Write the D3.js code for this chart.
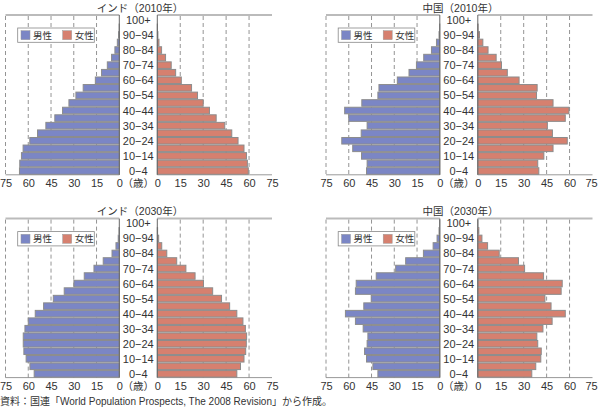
<!DOCTYPE html>
<html><head><meta charset="utf-8">
<script src="https://cdn.jsdelivr.net/npm/d3@7"></script>
<style>
body{margin:0;background:#fff;}
text{font-family:"Liberation Sans","Noto Sans CJK JP",sans-serif;fill:#333;}
</style></head>
<body><svg id="c" width="598" height="409"></svg>
<script>
const ages = ["0−4","5−9","10−14","15−19","20−24","25−29","30−34","35−39","40−44","45−49","50−54","55−59","60−64","65−69","70−74","75−79","80−84","85−89","90−94","95−99","100+"];
const ageLabels = ["0−4","10−14","20−24","30−34","40−44","50−54","60−64","70−74","80−84","90−94","100+"];
const xTicks = [0,15,30,45,60,75];
const legendLabels = ["男性","女性"];

const indiaMale2010   = [65.8,65.6,64.5,63.4,59,53.9,48.4,42.5,37.4,33.2,28.6,23.8,15.8,11.7,7.9,5.1,2.9,1.3,0.5,0.1,0];
const indiaFemale2010 = [59.5,58.9,58.3,56.7,52.8,48.7,44.1,38.5,34.1,30,26.3,22.4,15.7,12,9.1,5.4,2.8,1.1,0.4,0.1,0];
const chinaMale2010   = [48.3,47.9,51.6,57.4,64.6,51.8,47.9,60,62.7,51.4,40.8,40.1,28,20.3,15.4,10.6,5.5,2.2,0.5,0.1,0];
const chinaFemale2010 = [39.9,39.2,43.2,49.2,58.5,48.8,45.5,57.2,59.6,49.2,38.4,38.8,27,19.3,15.5,12,6.7,3.3,1.1,0.2,0];
const indiaMale2030   = [56.1,58.9,61.4,62.9,63.3,63.3,62.2,60,55.4,49.9,43.5,36.3,29.9,23.1,16.7,10.6,4.8,2.2,0.7,0.2,0];
const indiaFemale2030 = [52,54.4,56.7,57.8,58.2,58.4,57.6,56,52,47.3,42,36.2,30.2,24.7,18.7,12.7,6.2,2.9,0.9,0.2,0];
const chinaMale2030   = [40.8,44.1,48.3,49.6,47.9,47.4,50.5,55.6,62.2,50.1,45.2,55.6,55.1,41.9,29.1,22.5,10.8,4.4,1.8,0.5,0.1];
const chinaFemale2030 = [35.3,37.9,41.2,41.5,39.2,38.6,42.6,48.6,57.2,47.9,43.9,54.5,55.2,43,30.6,26.6,14,6.4,2.7,0.7,0.1];

const titles = ["インド（2010年）","中国（2010年）","インド（2030年）","中国（2030年）"];
const source = "資料：国連「World Population Prospects, The 2008 Revision」から作成。";

const maleColor = "#7b86c5", femaleColor = "#d6806f";
const svg = d3.select("#c");

const panels = [
  {title:titles[0], male:indiaMale2010, female:indiaFemale2010, ox:0, top:16, bottom:174.8},
  {title:titles[1], male:chinaMale2010, female:chinaFemale2010, ox:320.5, top:16, bottom:174.8},
  {title:titles[2], male:indiaMale2030, female:indiaFemale2030, ox:0, top:219.6, bottom:377.6},
  {title:titles[3], male:chinaMale2030, female:chinaFemale2030, ox:320.5, top:219.6, bottom:377.6}
];

panels.forEach(p => {
  const g = svg.append("g");
  const y = d3.scaleBand().domain(ages.slice().reverse()).range([p.top, p.bottom]).paddingInner(0);
  const xm = d3.scaleLinear().domain([0,75]).range([p.ox+119.3, p.ox+5.5]);
  const xf = d3.scaleLinear().domain([0,75]).range([p.ox+157.3, p.ox+272]);
  const bw = y.bandwidth();

  // title
  g.append("text").attr("x", p.ox+140).attr("y", p.top-4.5).attr("text-anchor","middle")
    .attr("font-size",10.5).text(p.title);

  // frame lines top & bottom
  [[xm,75,0],[xf,0,75]].forEach(([sc,a,b]) => {
    g.append("line").attr("x1",sc(a)).attr("x2",sc(b)).attr("y1",p.top-1).attr("y2",p.top-1)
      .attr("stroke","#bbb").attr("stroke-width",2);
    g.append("line").attr("x1",sc(a)).attr("x2",sc(b)).attr("y1",p.bottom).attr("y2",p.bottom)
      .attr("stroke","#999").attr("stroke-width",1);
  });

  // gridlines
  [15,30,45,60,75].forEach(v => {
    g.append("line").attr("x1",xm(v)).attr("x2",xm(v)).attr("y1",p.top).attr("y2",p.bottom)
      .attr("stroke","#888").attr("stroke-dasharray","4,3").attr("stroke-width",0.9);
  });
  [15,30,45,60].forEach(v => {
    g.append("line").attr("x1",xf(v)).attr("x2",xf(v)).attr("y1",p.top).attr("y2",p.bottom)
      .attr("stroke","#888").attr("stroke-dasharray","4,3").attr("stroke-width",0.9);
  });

  // bars
  g.selectAll(".m").data(p.male).join("rect")
    .attr("x",(d)=>xm(d)).attr("y",(d,i)=>y(ages[i])+0.5)
    .attr("width",d=>xm(0)-xm(d)).attr("height",bw-1)
    .attr("fill",maleColor).attr("stroke",d=>d>0?"#8c8c8c":"none").attr("stroke-width",1);
  g.selectAll(".f").data(p.female).join("rect")
    .attr("x",xf(0)).attr("y",(d,i)=>y(ages[i])+0.5)
    .attr("width",d=>xf(d)-xf(0)).attr("height",bw-1)
    .attr("fill",femaleColor).attr("stroke",d=>d>0?"#8c8c8c":"none").attr("stroke-width",1);

  // center axis lines
  g.append("line").attr("x1",xm(0)).attr("x2",xm(0)).attr("y1",p.top-1).attr("y2",p.bottom)
    .attr("stroke","#666").attr("stroke-width",1);
  g.append("line").attr("x1",xf(0)).attr("x2",xf(0)).attr("y1",p.top-1).attr("y2",p.bottom)
    .attr("stroke","#666").attr("stroke-width",1);

  // age labels
  ageLabels.forEach(a => {
    g.append("text").attr("x",p.ox+138.3).attr("y",y(a)+bw/2+4).attr("text-anchor","middle")
      .attr("font-size",11).text(a);
  });

  // x axes
  const axM = d3.axisBottom(xm).tickValues(xTicks).tickSize(0).tickPadding(0);
  const axF = d3.axisBottom(xf).tickValues(xTicks).tickSize(0).tickPadding(0);
  [axM, axF].forEach((ax, k) => {
    const a = g.append("g").attr("transform",`translate(0,${p.bottom+12.5})`).call(ax);
    a.select(".domain").remove();
    a.selectAll("text").attr("font-size",11).attr("fill","#333").attr("y",0).attr("dy",0)
      .attr("dx", d => (k===1 && d===75 && p.ox>0) ? -1.5 : 0)
      .style("font-family",'"Liberation Sans","Noto Sans CJK JP",sans-serif');
  });
  g.append("text").attr("x",p.ox+138.3).attr("y",p.bottom+12.5).attr("text-anchor","middle")
    .attr("font-size",10.5).text("（歳）");

  // legend
  const lg = g.append("g").attr("transform",`translate(${p.ox+17.7},${p.top+12})`);
  lg.append("rect").attr("width",76.6).attr("height",14.3).attr("fill","#fff").attr("stroke","#888").attr("stroke-width",0.8);
  [[maleColor,3.3,legendLabels[0]],[femaleColor,45,legendLabels[1]]].forEach(([c,x,t]) => {
    lg.append("rect").attr("x",x).attr("y",2.7).attr("width",9).attr("height",9).attr("fill",c).attr("stroke","#999").attr("stroke-width",0.5);
    lg.append("text").attr("x",x+12).attr("y",10.8).attr("font-size",9.5).text(t);
  });
});

svg.append("text").attr("x",0).attr("y",405).attr("font-size",10).text(source);
</script></body></html>
